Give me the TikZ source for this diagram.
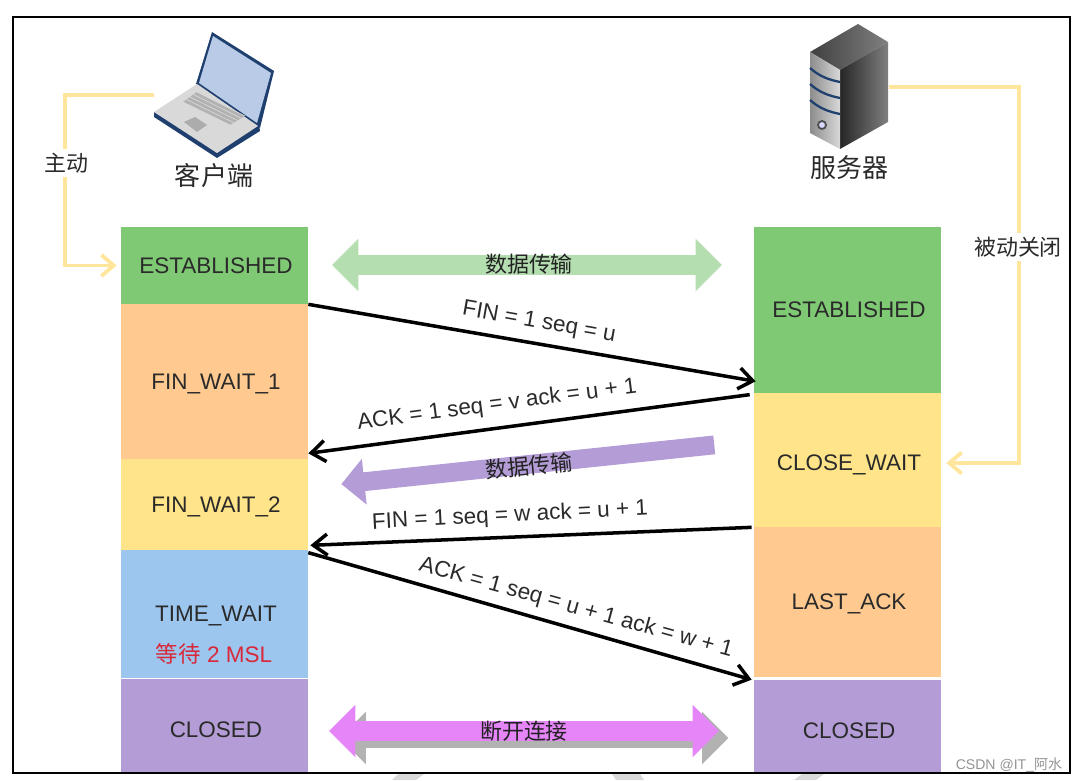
\documentclass[tikz,border=0pt]{standalone}
\usepackage{fontspec}
\setmainfont{Liberation Sans}
\newfontfamily\cjk{Noto Sans CJK SC}
\usetikzlibrary{
    positioning,
    arrows.meta,
    shapes.arrows,
    calc
}
\definecolor{stategreen}{HTML}{7FC874}
\definecolor{stateorange}{HTML}{FFC98F}
\definecolor{stateyellow}{HTML}{FFE48A}
\definecolor{stateblue}{HTML}{9CC6EE}
\definecolor{statepurple}{HTML}{B49DD6}
\definecolor{guideyellow}{HTML}{FFE69C}
\definecolor{inktext}{HTML}{2A2A2A}
\definecolor{palegreen}{HTML}{B4DDB0}
\definecolor{endmagenta}{HTML}{E585F8}
\definecolor{lidblue}{HTML}{BACBE8}
\definecolor{navy}{HTML}{1F3F6F}
\definecolor{alertred}{HTML}{D8283A}
\newcommand{\statetext}[1]{\hspace*{1.7pt}#1}
\begin{document}
\begin{tikzpicture}[
    x=0.02cm, y=-0.02cm,
    statebox/.style={rectangle, minimum width=3.74cm, inner sep=0pt, text depth=0pt, font=\fontsize{12.8}{14}\selectfont, text=inktext},
    msg/.style={-{Straight Barb[length=8pt,width=12pt]}, line width=2pt, black},
    msglabel/.style={font=\fontsize{12.8}{14}\selectfont, text=inktext, inner sep=0pt},
    guide/.style={-{Straight Barb[length=7pt,width=12pt]}, line width=2.2pt, guideyellow},
    title/.style={font=\cjk\fontsize{14.8}{16}\selectfont, text=inktext, inner sep=0pt},
    sidelabel/.style={font=\cjk\fontsize{12.5}{14}\selectfont, text=inktext, inner sep=2pt, fill=white},
    datalabel/.style={font=\cjk\fontsize{12.5}{14}\selectfont, text=inktext!80!black, inner sep=0pt},
    databoth/.style={double arrow, double arrow head extend=0.33cm, minimum width=1.04cm, inner sep=0.19cm, draw=none},
    dataone/.style={single arrow, single arrow head extend=0.27cm, minimum width=0.92cm, inner sep=0.18cm, draw=none},
    closedtext/.style={label={[font=\fontsize{12.8}{14}\selectfont, text=inktext, xshift=0.85pt, yshift=-2.4pt]center:CLOSED}}
]
    \useasboundingbox (0,0) rectangle (1077,780);

    % Watermark pieces under the frame
    \fill[gray!30] (398,774) -- (424,774) -- (416,780) -- (392,780) -- cycle;
    \fill[gray!30] (612,774) -- (640,774) -- (644,780) -- (616,780) -- cycle;
    \fill[gray!30] (802,774) -- (824,774) -- (816,780) -- (794,780) -- cycle;

    % Client column
    \node[statebox, fill=stategreen, minimum height=1.54cm] (estL) at (214.5,265.5) {\statetext{ESTABLISHED}};
    \node[statebox, fill=stateorange, minimum height=3.10cm] (finOne) at (214.5,381.5) {\statetext{FIN\_WAIT\_1}};
    \node[statebox, fill=stateyellow, minimum height=1.82cm] (finTwo) at (214.5,504.5) {\statetext{FIN\_WAIT\_2}};
    \node[statebox, fill=stateblue, minimum height=2.56cm] (timeWait) at (214.5,614) {\statetext{TIME\_WAIT}};
    \node[statebox, fill=statepurple, minimum height=1.88cm, closedtext] (closedL) at (214.5,726) {};
    \node[font=\fontsize{12.8}{14}\selectfont, text=alertred, inner sep=0pt] (msl) at (214,654) {{\cjk 等待} 2 MSL};

    % Server column
    \node[statebox, fill=stategreen, minimum height=3.32cm] (estR) at (847.5,310) {\statetext{ESTABLISHED}};
    \node[statebox, fill=stateyellow, minimum height=2.68cm] (closeWait) at (847.5,460) {};
    \node[msglabel, text depth=0pt] (closeWaitText) at (849,463) {CLOSE\_WAIT};
    \node[statebox, fill=stateorange, minimum height=3.00cm] (lastAck) at (847.5,602) {\statetext{LAST\_ACK}};
    \node[statebox, fill=statepurple, minimum height=1.86cm, closedtext] (closedR) at (847.5,726.5) {};

    % Laptop
    \coordinate (laptop) at (154,95);
    \fill[navy] (154,112) -- (154,117) -- (217,158) -- (260,131) -- (259,125) -- (217,150) -- cycle;
    \fill[navy] (212,32) -- (274,71) -- (260,128) -- (196,84) -- cycle;
    \fill[lidblue] (213,36) -- (271,73) -- (257,123) -- (199,83) -- cycle;
    \fill[gray!30] (154,112) -- (197,84) -- (258,126) -- (217,153) -- cycle;
    \fill[gray!60] (183,102) -- (197,92) -- (245,116) -- (230,125) -- cycle;
    \foreach \kk in {0,0.25,0.5,0.75,1}
        \draw[gray!25, line width=0.3pt] ($(183,102)!\kk!(197,92)$) -- ($(230,125)!\kk!(245,116)$);
    \fill[gray!65] (184,122) -- (195,117) -- (207,125) -- (197,132) -- cycle;

    % Server
    \coordinate (server) at (889,87);
    \shade[left color=black!75, right color=black!50] (858,24) -- (888,42) -- (840,70) -- (810,52) -- cycle;
    \shade[left color=black!85, right color=black!50] (840,70) -- (888,42) -- (888,122) -- (840,149) -- cycle;
    \shade[left color=black!45, right color=black!15] (810,52) -- (840,70) -- (840,149) -- (810,133) -- cycle;
    \foreach \yy in {68,84,100}
        \draw[navy, line width=1.3pt] (810,\yy) .. controls (820,\yy+9) and (830,\yy+12) .. (840,\yy+14);
    \fill[blue!15, draw=black!70, line width=1pt] (822,125) circle (4);

    \node[title] (client) at (214,176) {客户端};
    \node[title] (serverName) at (849,168) {服务器};

    % Yellow guides
    \coordinate (activeBend) at (65,95);
    \coordinate (passiveBend) at (1019,87);
    \draw[guide] (laptop) -- (activeBend) -- (activeBend |- estL.west) -- ($(estL.west)+(-4,0)$);
    \draw[guide] (server) -- (passiveBend) -- (passiveBend |- closeWaitText) -- ($(closeWait.east |- closeWaitText)+(5,0)$);
    \node[sidelabel] (active) at (66,163) {主动};
    \node[sidelabel] (passive) at (1018,247) {被动关闭};

    % Messages
    \draw[msg] (estL.south east) -- ($(estR.south west)+(2,-12)$);
    \draw[msg] ($(closeWait.north west)+(-4,2)$) -- ($(finOne.south east)+(0,-6)$);
    \draw[msg] ($(closeWait.south west)+(-2,0)$) -- ($(finTwo.south east)+(2,-5)$);
    \draw[msg] ($(timeWait.north east)+(0,3)$) -- ($(closedR.north west)+(-2,0)$);
    \node[msglabel, rotate=-10] (finU) at (539,323) {FIN = 1 seq = u};
    \node[msglabel, rotate=7.5] (ackV) at (497,405) {ACK = 1 seq = v ack = u + 1};
    \node[msglabel, rotate=3] (finW) at (510,516) {FIN = 1 seq = w ack = u + 1};
    \node[msglabel, rotate=-15.5] (ackW) at (576,608) {ACK = 1 seq = u + 1 ack = w + 1};

    % Data arrows
    \node[databoth, fill=palegreen, minimum height=7.8cm] (dataTop) at (527,265) {};
    \node[datalabel] (dataTopText) at (529,264) {数据传输};
    \node[dataone, fill=statepurple, minimum height=7.5cm, rotate=186] (dataMid) at (532.5,464) {};
    \node[datalabel, rotate=6] (dataMidText) at (529,466) {数据传输};
    \node[databoth, fill=gray!60, minimum height=7.78cm] (endShadow) at (534,738) {};
    \node[databoth, fill=endmagenta, minimum height=7.8cm] (endArrow) at (524,731) {};
    \node[datalabel] (endText) at (524,731) {断开连接};

    % Frame
    \draw[black, line width=1.2pt] (13,17) rectangle (1070,773);

    \node[font=\fontsize{8}{10}\selectfont, text=gray!85, inner sep=0pt] (mark) at (1009,765) {CSDN @IT\_{\cjk 阿水}};
\end{tikzpicture}
\end{document}
